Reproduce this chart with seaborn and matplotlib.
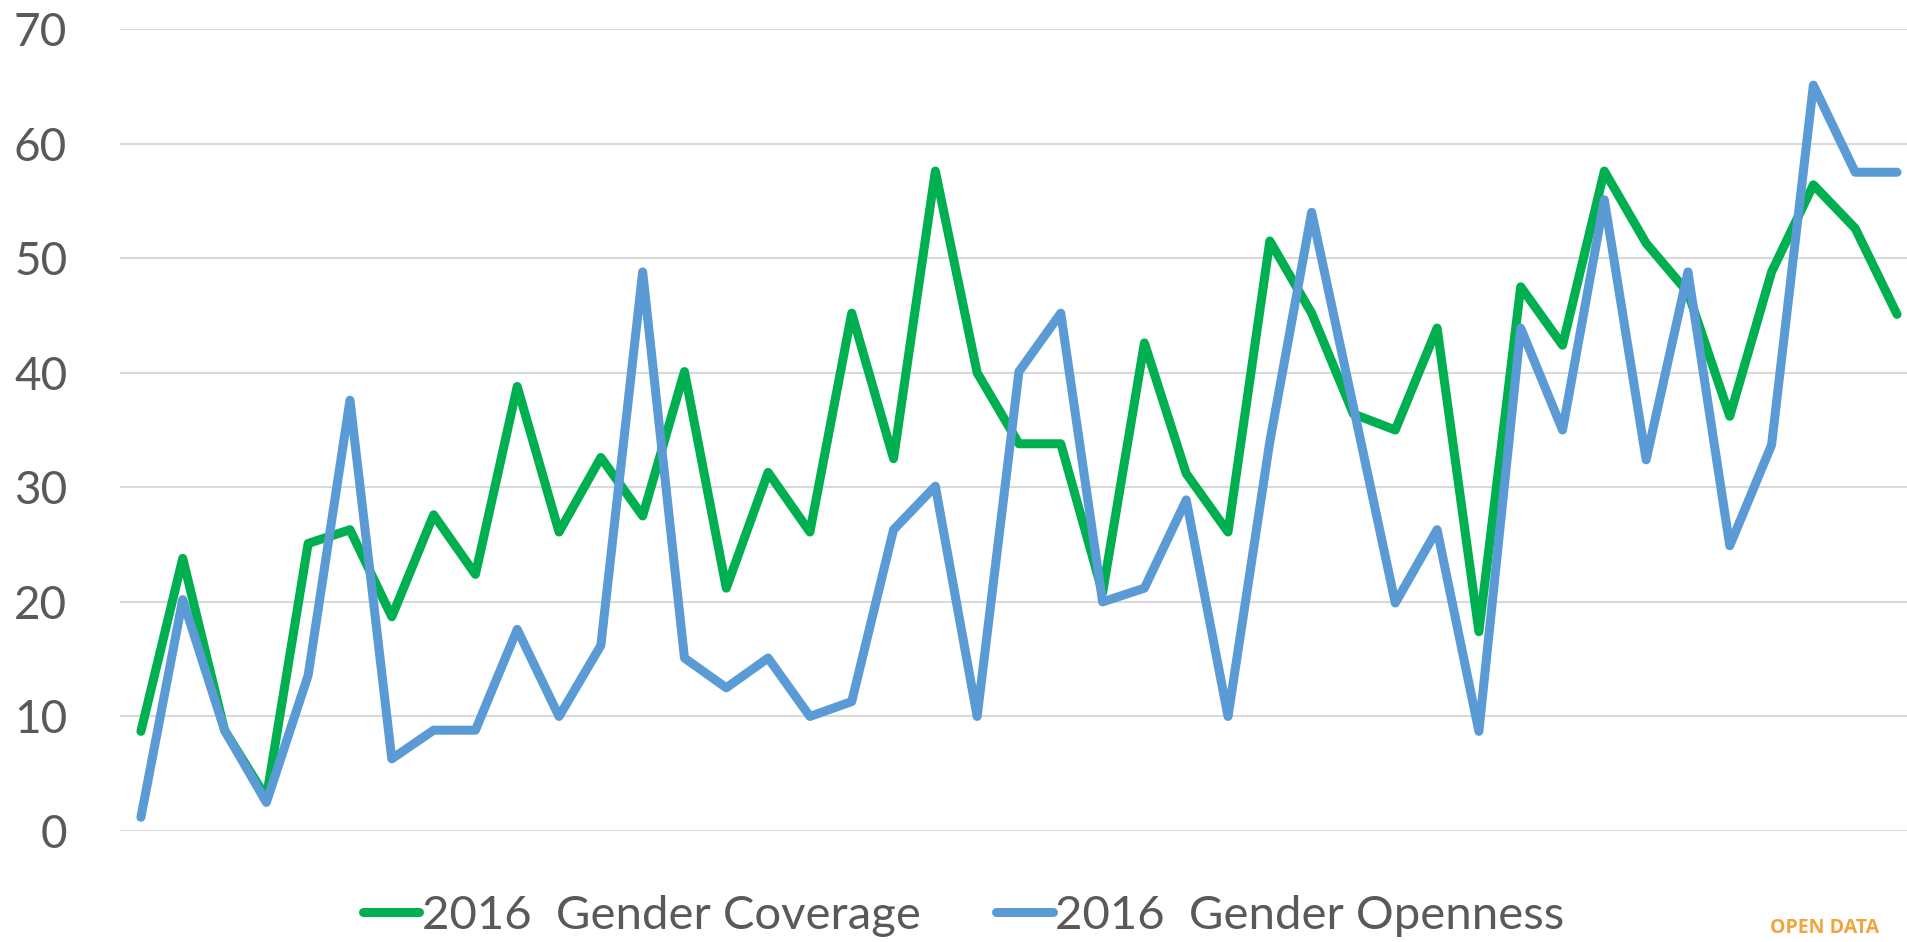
import pandas as pd
import seaborn as sns
import matplotlib.pyplot as plt

# values (43 unlabelled categories)
coverage = [8.7, 23.8, 8.8, 2.9, 25.1, 26.3, 18.7, 27.6, 22.4, 38.8,
            26.1, 32.6, 27.5, 40.1, 21.2, 31.3, 26.1, 45.2, 32.5, 57.6,
            40.0, 33.8, 33.8, 20.8, 42.6, 31.2, 26.1, 51.5, 45.2, 36.4,
            35.0, 43.9, 17.4, 47.5, 42.4, 57.6, 51.3, 47.0, 36.2, 48.8,
            56.4, 52.6, 45.1]
openness = [1.2, 20.2, 8.8, 2.5, 13.6, 37.6, 6.3, 8.8, 8.8, 17.6,
            10.0, 16.2, 48.8, 15.1, 12.5, 15.1, 10.0, 11.3, 26.3, 30.1,
            10.0, 40.1, 45.2, 20.0, 21.2, 28.9, 10.0, 34.0, 54.0, 37.0,
            19.9, 26.3, 8.7, 43.9, 35.0, 55.1, 32.4, 48.8, 24.9, 33.7,
            65.1, 57.5, 57.5]
series_names = ["2016  Gender Coverage", "2016  Gender Openness"]
colors = ["#00B050", "#5B9BD5"]
y_ticks = [0, 10, 20, 30, 40, 50, 60, 70]

df = pd.DataFrame({"idx": range(len(coverage)),
                   series_names[0]: coverage,
                   series_names[1]: openness})

sns.set_theme(style="white")
plt.rcParams["font.family"] = ["Lato", "DejaVu Sans"]

fig = plt.figure(figsize=(19.08, 9.42), dpi=100)
ax = fig.add_axes([0.0629, 0.1178, 0.9423, 0.8514])

for name, col in zip(series_names, colors):
    sns.lineplot(data=df, x="idx", y=name, ax=ax, color=col, linewidth=6.5,
                 label=name, solid_capstyle="round", solid_joinstyle="round")

ax.set_xlim(-0.5, len(coverage) - 0.5)
ax.set_ylim(0, 70)
ax.set_yticks(y_ticks)
ax.set_xticks([])
ax.set_xlabel("")
ax.set_ylabel("")
ax.yaxis.grid(True, color="#d9d9d9", linewidth=1.5)
ax.set_axisbelow(True)
for s in ax.spines.values():
    s.set_visible(False)
ax.tick_params(axis="y", labelsize=33, labelcolor="#595959", length=0, pad=38)

ax.legend(loc="center", bbox_to_anchor=(0.505, 0.028), bbox_transform=fig.transFigure,
          ncol=2, frameon=False, fontsize=34, labelcolor="#595959",
          handlelength=1.2, handletextpad=0.05, columnspacing=1.6)

# watermark in the bottom-right corner
fig.text(1770 / 1908, 0.004, "OPEN DATA", color="#F2A43A", fontsize=14,
         fontweight="bold", ha="left", va="bottom", family="Open Sans")

fig.savefig("out.png", dpi=100)
